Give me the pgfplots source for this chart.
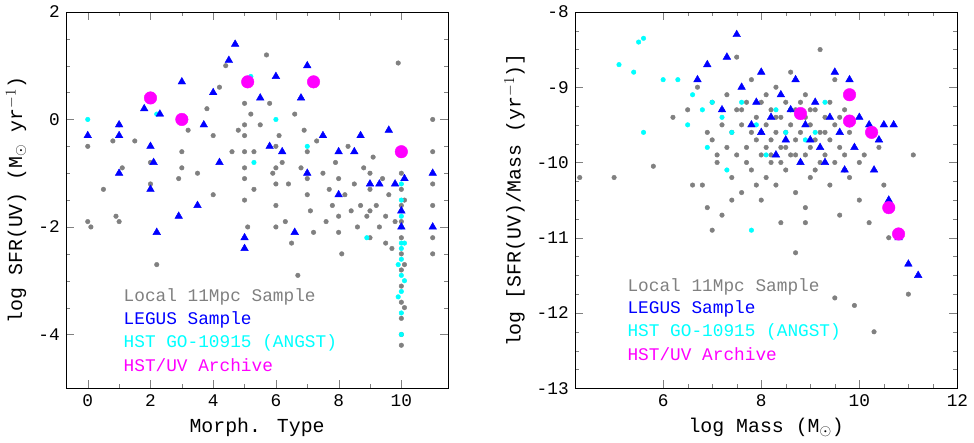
\documentclass[border=0pt]{standalone}
\usepackage{pgfplots}
\pgfplotsset{compat=1.18}
\usepackage{fontspec}
\setmainfont{Liberation Mono}
\definecolor{gr}{RGB}{128,128,128}
\definecolor{bl}{RGB}{0,0,255}
\definecolor{cy}{RGB}{0,255,255}
\definecolor{mg}{RGB}{255,0,255}
\begin{document}
\fontsize{17}{20}\selectfont
\begin{tikzpicture}
\pgfplotsset{every axis/.style={scale only axis, width=366pt, height=360pt,
  tick align=inside, tick pos=both, minor tick length=4pt, major tick length=8pt,
  /pgf/number format/assume math mode=true, tick label style={font=\fontsize{17}{20}\selectfont},
  label style={font=\fontsize{19}{22}\selectfont}},
  gp/.style={only marks, mark=*, mark size=2.2pt, color=gr, mark options={draw=none,fill=gr}},
  bp/.style={only marks, mark=triangle*, mark size=4.2pt, color=bl, mark options={draw=none,fill=bl}},
  cp/.style={only marks, mark=*, mark size=2.2pt, color=cy, mark options={draw=none,fill=cy}},
  mp/.style={only marks, mark=*, mark size=6pt, color=mg, mark options={draw=none,fill=mg}}}
\begin{axis}[at={(0,0)}, xmin=-0.7, xmax=11.5, ymin=-5, ymax=2,
  xtick={0,2,4,6,8,10}, minor x tick num=1, ytick={-4,-2,0,2}, minor y tick num=3,
  xlabel={Morph. Type}, ylabel={log SFR(UV) (M$_\odot$ yr$^{-1}$)}]
\addplot[gp] coordinates {(0,-0.5)(0,-1.9)(0.1,-2.0)(0.5,-1.3)(0.8,-0.4)(0.9,-1.8)(1,-1.9)(1,-0.1)(1.1,-0.9)(1.5,-0.4)(2,-0.8)(2,-1.2)(2.2,-2.7)(2.9,-1.1)(3,-0.6)(3,-0.9)(3.2,-0.2)(3.5,-1.0)(3.8,0.2)(4,-0.3)(4,-1.4)(4.2,0.6)(4.4,1.0)(4.8,-0.2)(5,-0.3)(5,-0.9)(5,-1.5)(5.1,-2.0)(5.2,0.1)(5.3,-0.6)(5.3,-1.3)(5.5,-0.1)(5.7,1.2)(5.8,0.3)(5.9,-1.0)(6,-0.5)(6,-1.2)(6,-1.6)(6,-2.0)(6.1,-0.3)(6.2,-0.8)(6.3,-1.9)(6.4,-1.2)(6.5,-2.3)(6.6,0.1)(6.7,-2.9)(6.8,-0.9)(7,-0.6)(7,-1.4)(7.1,-1.7)(7.2,-2.1)(7.3,-0.4)(7.5,-1.0)(7.6,-1.9)(7.8,-1.6)(7.9,-0.8)(8,-1.1)(8,-1.8)(8.1,-2.5)(8.2,-1.4)(8.3,-0.5)(8.5,-1.2)(8.6,-2.0)(8.7,-1.6)(8.8,-0.9)(8.9,-1.8)(9,-1.3)(9,-2.2)(9.1,-0.7)(9.2,-1.6)(9.3,-2.0)(9.4,-1.1)(9.5,-1.8)(9.6,-1.4)(9.7,-2.4)(9.8,-1.9)(9.9,1.05)(10,-1.0)(10,-1.3)(10,-1.6)(10,-1.9)(10,-2.2)(10,-2.5)(10,-2.8)(10,-3.1)(10,-3.4)(10,-3.7)(10,-4.0)(10,-4.2)(10.1,-1.5)(10.1,-2.7)(10.1,-3.5)(11,0)(11,-1.2)(11,-1.6)(11,-2.2)(11,-2.5)(11,-0.6)(5,-0.1)(5,0.3)(5,-0.6)(5,-1.1)(4.6,-0.6)(6,-0.9)(7,-1.1)(8,-2.1)(9,-1.0)(9,-1.7)(9.5,-2.3)(8.4,-1.7)(7.7,-1.3)(6.9,-0.2)};
\addplot[cp] coordinates {(0,0)(2.2,0.1)(5.2,0.8)(5.3,-0.8)(6,0)(7,-0.5)(8.9,-2.2)(10,-1.2)(10,-1.5)(10,-1.8)(10,-2.0)(10,-2.3)(10,-2.6)(10,-2.9)(10,-3.2)(10,-3.6)(10,-4.0)(10.1,-2.3)(9.9,-2.7)(10.1,-3.0)(9.9,-3.3)(10,-2.4)};
\addplot[bp] coordinates {(0,-0.3)(1,-0.1)(1,-0.3)(1,-1.0)(1.8,0.2)(2,-0.5)(2,-1.3)(2.1,-0.8)(2.2,-2.1)(2.3,0.1)(2.9,-1.8)(3,0.7)(3.5,-1.6)(3.7,-0.1)(4,0.5)(4.2,-0.8)(4.5,1.1)(4.7,1.4)(5,-2.2)(5,-2.4)(5.5,0.4)(5.8,-0.5)(6,0.8)(6.2,-0.6)(6.6,-2.1)(6.8,0.4)(7,-1.0)(7,1.0)(7.5,-0.3)(8,-1.4)(8,-0.6)(8.5,-0.6)(8.7,-0.3)(9,-1.2)(9.3,-1.2)(9.6,-0.2)(9.8,-1.2)(10,-1.7)(10,-2.0)(10.1,-1.1)(11,-1.0)(11,-2.0)};
\addplot[mp] coordinates {(2,0.4)(3,0)(5.1,0.7)(7.2,0.7)(10,-0.6)};
\node[anchor=west,text=gr] at (axis cs:0.95,-3.3) {Local 11Mpc Sample};
\node[anchor=west,text=bl] at (axis cs:0.95,-3.72) {LEGUS Sample};
\node[anchor=west,text=cy] at (axis cs:0.95,-4.15) {HST GO-10915 (ANGST)};
\node[anchor=west,text=mg] at (axis cs:0.95,-4.57) {HST/UV Archive};
\end{axis}
\begin{axis}[at={(487pt,0)}, xmin=4.2, xmax=12, ymin=-13, ymax=-8,
  xtick={6,8,10,12}, minor x tick num=3, ytick={-13,-12,-11,-10,-9,-8}, minor y tick num=3,
  xlabel={log Mass (M$_\odot$)}, ylabel={log [SFR(UV)/Mass (yr$^{-1}$)]}]
\addplot[gp] coordinates {(4.3,-10.2)(5.0,-10.2)(5.8,-10.05)(6.2,-9.4)(6.5,-9.3)(6.7,-9.0)(6.8,-10.3)(6.9,-10.6)(7.0,-9.7)(7.0,-9.2)(7.1,-10.0)(7.2,-9.5)(7.2,-10.7)(7.3,-9.1)(7.3,-9.8)(7.4,-9.6)(7.4,-10.2)(7.5,-9.3)(7.5,-9.9)(7.5,-8.6)(7.6,-9.5)(7.6,-10.4)(7.7,-9.2)(7.7,-9.8)(7.8,-9.6)(7.8,-10.1)(7.8,-8.9)(7.9,-9.4)(7.9,-9.7)(8.0,-9.2)(8.0,-9.9)(8.0,-10.5)(8.1,-9.5)(8.1,-9.1)(8.1,-10.2)(8.2,-9.7)(8.2,-9.3)(8.2,-10.0)(8.3,-9.6)(8.3,-9.0)(8.3,-10.3)(8.4,-9.4)(8.4,-9.8)(8.4,-10.8)(8.5,-9.2)(8.5,-9.6)(8.5,-10.1)(8.6,-9.5)(8.6,-9.9)(8.6,-8.8)(8.7,-9.3)(8.7,-9.7)(8.7,-10.4)(8.8,-9.6)(8.8,-10.0)(8.9,-9.4)(8.9,-9.1)(8.9,-10.6)(9.0,-9.5)(9.0,-9.8)(9.0,-10.2)(9.1,-9.3)(9.1,-9.7)(9.2,-9.6)(9.2,-10.0)(9.2,-8.5)(9.3,-9.4)(9.3,-9.9)(9.4,-9.2)(9.4,-9.7)(9.4,-10.3)(9.5,-9.5)(9.5,-8.9)(9.6,-9.8)(9.6,-10.7)(9.7,-9.3)(9.8,-9.6)(9.8,-10.2)(9.9,-11.9)(10.0,-10.5)(10.1,-9.9)(10.2,-10.8)(10.3,-12.25)(10.4,-9.8)(10.5,-10.3)(10.6,-11.0)(11.0,-11.75)(11.1,-9.9)(7.1,-9.9)(7.4,-10.5)(7.6,-9.3)(7.9,-10.3)(8.0,-9.6)(8.2,-9.9)(8.3,-9.4)(8.5,-9.8)(8.6,-9.3)(8.8,-9.2)(8.9,-9.9)(9.1,-10.1)(9.3,-9.6)(9.5,-10.0)(9.7,-9.9)(6.9,-9.6)(7.2,-9.3)(7.7,-10.0)(8.1,-9.8)(8.4,-10.0)(8.7,-9.9)(9.0,-9.3)(9.6,-9.4)(6.6,-10.3)(7.0,-10.9)(8.9,-10.8)(9.5,-11.8)(9.7,-10.1)(10.0,-10.0)(8.7,-11.2)};
\addplot[cp] coordinates {(5.1,-8.7)(5.4,-8.8)(5.5,-8.4)(5.6,-8.35)(5.6,-9.6)(6.0,-8.9)(6.3,-8.9)(6.5,-9.5)(6.6,-9.1)(6.8,-9.3)(6.9,-9.8)(7.0,-9.2)(7.2,-9.4)(7.4,-9.6)(7.6,-9.2)(7.8,-10.9)(7.9,-9.5)(8.1,-9.9)(8.3,-9.3)(8.5,-9.6)(8.6,-9.3)(8.9,-9.7)(9.1,-9.6)(9.3,-9.2)(7.3,-10.1)};
\addplot[bp] coordinates {(6.7,-8.9)(6.9,-8.7)(7.2,-9.3)(7.3,-8.6)(7.5,-8.3)(7.6,-9.0)(7.8,-9.5)(7.9,-9.2)(8.0,-9.6)(8.0,-8.8)(8.2,-9.4)(8.3,-9.9)(8.4,-9.1)(8.5,-9.7)(8.6,-9.3)(8.7,-8.9)(8.8,-10.0)(8.9,-9.5)(9.0,-9.7)(9.1,-9.2)(9.2,-9.8)(9.3,-10.0)(9.4,-9.4)(9.5,-8.8)(9.6,-9.6)(9.7,-10.1)(9.8,-8.9)(10.0,-9.4)(10.2,-9.5)(10.3,-10.1)(10.5,-9.5)(10.6,-10.5)(11.0,-11.35)(11.2,-11.5)(10.8,-11.0)(9.9,-9.8)(10.4,-9.7)(10.7,-9.5)};
\addplot[mp] coordinates {(8.8,-9.35)(9.8,-9.1)(9.8,-9.45)(10.25,-9.6)(10.6,-10.6)(10.8,-10.95)};
\node[anchor=west,text=gr] at (axis cs:5.15,-11.65) {Local 11Mpc Sample};
\node[anchor=west,text=bl] at (axis cs:5.15,-11.95) {LEGUS Sample};
\node[anchor=west,text=cy] at (axis cs:5.15,-12.25) {HST GO-10915 (ANGST)};
\node[anchor=west,text=mg] at (axis cs:5.15,-12.55) {HST/UV Archive};
\end{axis}
\end{tikzpicture}
\end{document}
